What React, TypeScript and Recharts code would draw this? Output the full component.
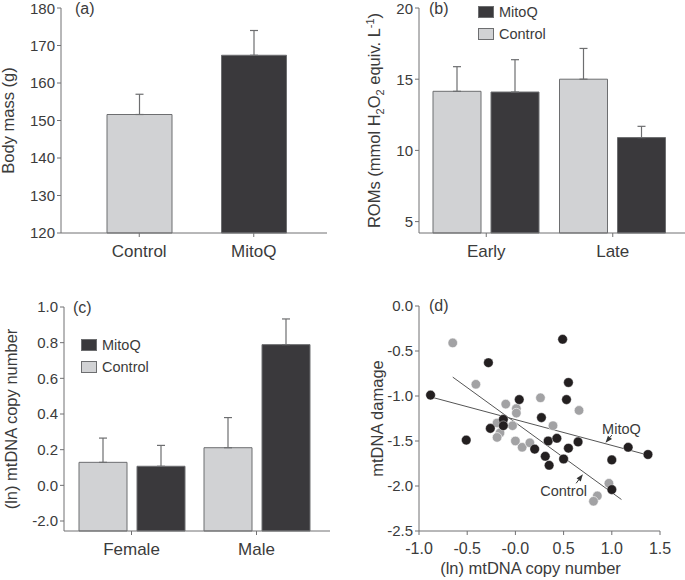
import React from "react";
import {
  BarChart,
  Bar,
  Cell,
  ErrorBar,
  XAxis,
  YAxis,
  Legend,
  ScatterChart,
  Scatter,
  ReferenceLine,
  ReferenceDot,
} from "recharts";

const FONT = '"Liberation Sans", Arial, Helvetica, sans-serif';
const INK = "#3b3b3b";
const AXIS = "#707072";
const LIGHT = "#d1d2d4";
const DARK = "#3a393c";
const EDGE = "#6d6e70";
const GREY_DOT = "#a2a2a4";
const BLACK_DOT = "#231f20";

// (a) body mass
const massGroups = ["Control", "MitoQ"];
const massMean = [151.6, 167.4];
const massSe = [5.4, 6.6];
const massTicks = [120, 130, 140, 150, 160, 170, 180];

// (b) ROMs
const romPeriods = ["Early", "Late"];
const romControl = [14.15, 15.0];
const romControlSe = [1.73, 2.16];
const romMitoQ = [14.1, 10.9];
const romMitoQSe = [2.27, 0.79];
const romTicks = [5, 10, 15, 20];
const ROM_FLOOR = 4.2;

// (c) copy number by sex
const sexes = ["Female", "Male"];
const copyControl = [0.129, 0.211];
const copyControlSe = [0.136, 0.169];
const copyMitoQ = [0.107, 0.789];
const copyMitoQSe = [0.117, 0.144];
const copyTicks = [-0.2, 0, 0.2, 0.4, 0.6, 0.8, 1.0];
const copyTickLabels = ["-2.0", "0.0", "0.2", "0.4", "0.6", "0.8", "1.0"]; // as printed
const COPY_FLOOR = -0.256;

// (d) damage vs copy number
const controlCopy = [-0.65, -0.41, -0.1, 0.01, 0.01, 0.26, -0.19, -0.03, -0.16, -0.19, 0.0, 0.07, 0.15, 0.39, 0.66, 0.97, 0.85, 0.81];
const controlDamage = [-0.41, -0.87, -1.09, -1.14, -1.19, -1.02, -1.3, -1.33, -1.41, -1.46, -1.5, -1.57, -1.52, -1.33, -1.16, -1.97, -2.11, -2.17];
const mitoCopy = [-0.88, -0.51, -0.28, -0.26, -0.125, -0.125, 0.04, 0.27, 0.2, 0.31, 0.35, 0.34, 0.43, 0.49, 0.55, 0.53, 0.5, 0.55, 0.65, 1.0, 1.0, 1.17, 1.375];
const mitoDamage = [-0.99, -1.49, -0.63, -1.36, -1.26, -1.33, -1.04, -1.24, -1.59, -1.67, -1.77, -1.5, -1.47, -0.37, -0.85, -1.04, -1.7, -1.58, -1.51, -1.71, -2.04, -1.57, -1.65];
const mitoFit = [{ x: -0.88, y: -1.01 }, { x: 1.37, y: -1.655 }];
const controlFit = [{ x: -0.65, y: -0.79 }, { x: 1.1, y: -2.15 }];
const xTicksD = [-1, -0.5, 0, 0.5, 1, 1.5];
const xTickLabelsD = ["-1.0", "-0.5", "-0.0", "0.5", "1.0", "1.5"];
const yTicksD = [0, -0.5, -1, -1.5, -2, -2.5];

const massRows = massGroups.map((g, i) => ({ group: g, mean: massMean[i], se: [0, massSe[i]] }));
const romRows = romPeriods.map((p, i) => ({
  period: p,
  control: romControl[i],
  controlSe: [0, romControlSe[i]],
  mitoq: romMitoQ[i],
  mitoqSe: [0, romMitoQSe[i]],
}));
const copyRows = sexes.map((s, i) => ({
  sex: s,
  control: [COPY_FLOOR, copyControl[i]],
  controlSe: [0, copyControlSe[i]],
  mitoq: [COPY_FLOOR, copyMitoQ[i]],
  mitoqSe: [0, copyMitoQSe[i]],
}));
const controlPts = controlCopy.map((x, i) => ({ x, y: controlDamage[i] }));
const mitoPts = mitoCopy.map((x, i) => ({ x, y: mitoDamage[i] }));

const numTick = { fill: INK, fontSize: 15, fontFamily: FONT };
const catTick = { fill: INK, fontSize: 17, fontFamily: FONT };

const YTitle = (props: any) => {
  const { viewBox, at, title, rich } = props;
  const cy = viewBox ? viewBox.y + viewBox.height / 2 : 120;
  return (
    <text
      x={at}
      y={cy}
      transform={`rotate(-90 ${at} ${cy})`}
      textAnchor="middle"
      dy="0.35em"
      fill={INK}
      fontSize={16.5}
      fontFamily={FONT}
    >
      {rich ? (
        <>
          ROMs (mmol H<tspan dy={4} fontSize={11}>2</tspan>
          <tspan dy={-4}>O</tspan>
          <tspan dy={4} fontSize={11}>2</tspan>
          <tspan dy={-4}> equiv. L</tspan>
          <tspan dy={-6} fontSize={11}>-1</tspan>
          <tspan dy={6}>)</tspan>
        </>
      ) : (
        title
      )}
    </text>
  );
};

const XTitle = (props: any) => {
  const { viewBox, title, dx = 0 } = props;
  const cx = viewBox ? viewBox.x + viewBox.width / 2 + dx : 170;
  const y = viewBox ? viewBox.y + 43 : 284;
  return (
    <text x={cx} y={y} textAnchor="middle" fill={INK} fontSize={16.5} fontFamily={FONT}>
      {title}
    </text>
  );
};

const KeyBox = () => (
  <div style={{ fontFamily: FONT, fontSize: 14.5, color: INK, lineHeight: "22px" }}>
    {[
      { name: "MitoQ", fill: DARK },
      { name: "Control", fill: LIGHT },
    ].map((it) => (
      <div key={it.name} style={{ display: "flex", alignItems: "center", height: 22 }}>
        <span
          style={{
            display: "inline-block",
            width: 16,
            height: 12,
            background: it.fill,
            border: `1px solid ${EDGE}`,
            boxSizing: "border-box",
            marginRight: 5,
          }}
        />
        {it.name}
      </div>
    ))}
  </div>
);

const Arrow = (props: any) => {
  const { x1, y1, x2, y2 } = props;
  const ang = Math.atan2(y2 - y1, x2 - x1);
  const len = 7;
  const half = 2.6;
  const bx = x2 - len * Math.cos(ang);
  const by = y2 - len * Math.sin(ang);
  const px = -Math.sin(ang) * half;
  const py = Math.cos(ang) * half;
  return (
    <g>
      <line x1={x1} y1={y1} x2={bx} y2={by} stroke="#333" strokeWidth={1} />
      <polygon points={`${x2},${y2} ${bx + px},${by + py} ${bx - px},${by - py}`} fill="#333" />
    </g>
  );
};

const panelLabel = (text: string, left: number, top: number) => (
  <div
    style={{
      position: "absolute",
      left,
      top,
      fontFamily: FONT,
      fontSize: 16,
      lineHeight: "18px",
      color: INK,
    }}
  >
    {text}
  </div>
);

export default function App() {
  return (
    <div style={{ position: "absolute", left: 0, top: 0, width: 685, height: 580, background: "#fff" }}>
      {/* (a) */}
      <div style={{ position: "absolute", left: 0, top: 0 }}>
        <BarChart width={340} height={290} data={massRows} margin={{ top: 8, right: 13, bottom: 0, left: 0 }}>
          <XAxis
            dataKey="group"
            padding={{ left: 21, right: 16 }}
            height={57}
            stroke={AXIS}
            tickSize={4}
            tickMargin={8}
            tick={catTick}
          />
          <YAxis
            width={61}
            domain={[120, 180]}
            ticks={massTicks}
            stroke={AXIS}
            tickSize={4}
            tickMargin={2}
            tick={numTick}
            label={<YTitle at={8} title="Body mass (g)" />}
          />
          <Bar dataKey="mean" barSize={65} stroke={EDGE} strokeWidth={1} isAnimationActive={false}>
            {massRows.map((r, i) => (
              <Cell key={r.group} fill={i === 0 ? LIGHT : DARK} />
            ))}
            <ErrorBar dataKey="se" width={4} stroke={EDGE} strokeWidth={1.2} />
          </Bar>
        </BarChart>
      </div>

      {/* (b) */}
      <div style={{ position: "absolute", left: 340, top: 0 }}>
        <BarChart
          width={345}
          height={290}
          data={romRows}
          barGap={10}
          margin={{ top: 8, right: 0, bottom: 0, left: 0 }}
        >
          <XAxis
            dataKey="period"
            padding={{ left: 4, right: 9 }}
            height={57}
            stroke={AXIS}
            tickSize={4}
            tickMargin={8}
            tick={catTick}
          />
          <YAxis
            width={79}
            domain={[ROM_FLOOR, 20]}
            ticks={romTicks}
            stroke={AXIS}
            tickSize={4}
            tickMargin={2}
            tick={numTick}
            label={<YTitle at={34} rich />}
          />
          <Legend
            layout="vertical"
            align="center"
            verticalAlign="middle"
            wrapperStyle={{ left: 138, top: 1, width: "auto", height: "auto" }}
            content={() => <KeyBox />}
          />
          <Bar dataKey="control" name="Control" fill={LIGHT} stroke={EDGE} barSize={48} isAnimationActive={false}>
            <ErrorBar dataKey="controlSe" width={4} stroke={EDGE} strokeWidth={1.2} />
          </Bar>
          <Bar dataKey="mitoq" name="MitoQ" fill={DARK} stroke={EDGE} barSize={48} isAnimationActive={false}>
            <ErrorBar dataKey="mitoqSe" width={4} stroke={EDGE} strokeWidth={1.2} />
          </Bar>
        </BarChart>
      </div>

      {/* (c) */}
      <div style={{ position: "absolute", left: 0, top: 290 }}>
        <BarChart
          width={340}
          height={290}
          data={copyRows}
          barGap={10}
          margin={{ top: 17, right: 10, bottom: 0, left: 0 }}
        >
          <XAxis
            dataKey="sex"
            padding={{ left: 5, right: 11 }}
            height={49}
            stroke={AXIS}
            tickSize={4}
            tickMargin={8}
            tick={catTick}
          />
          <YAxis
            width={64}
            domain={[COPY_FLOOR, 1]}
            ticks={copyTicks}
            tickFormatter={(v: number) => copyTickLabels[copyTicks.indexOf(v)] ?? String(v)}
            stroke={AXIS}
            tickSize={4}
            tickMargin={2}
            tick={numTick}
            label={<YTitle at={11} title="(ln) mtDNA copy number" />}
          />
          <Legend
            layout="vertical"
            align="center"
            verticalAlign="middle"
            wrapperStyle={{ left: 81, top: 43.5, width: "auto", height: "auto" }}
            content={() => <KeyBox />}
          />
          <Bar dataKey="control" name="Control" fill={LIGHT} stroke={EDGE} barSize={48} isAnimationActive={false}>
            <ErrorBar dataKey="controlSe" width={4} stroke={EDGE} strokeWidth={1.2} />
          </Bar>
          <Bar dataKey="mitoq" name="MitoQ" fill={DARK} stroke={EDGE} barSize={48} isAnimationActive={false}>
            <ErrorBar dataKey="mitoqSe" width={4} stroke={EDGE} strokeWidth={1.2} />
          </Bar>
        </BarChart>
      </div>

      {/* (d) */}
      <div style={{ position: "absolute", left: 340, top: 290 }}>
        <ScatterChart width={345} height={290} margin={{ top: 16, right: 25, bottom: 0, left: 0 }}>
          <XAxis
            type="number"
            dataKey="x"
            domain={[-1, 1.5]}
            ticks={xTicksD}
            tickFormatter={(v: number) => xTickLabelsD[xTicksD.indexOf(v)] ?? String(v)}
            height={49}
            stroke={AXIS}
            tickSize={4}
            tickMargin={8}
            tick={{ ...numTick, fontSize: 16 }}
            label={<XTitle title="(ln) mtDNA copy number" dx={-9} />}
          />
          <YAxis
            type="number"
            dataKey="y"
            domain={[-2.5, 0]}
            ticks={yTicksD}
            tickFormatter={(v: number) => v.toFixed(1)}
            width={79}
            stroke={AXIS}
            tickSize={4}
            tickMargin={2}
            tick={numTick}
            label={<YTitle at={37} title="mtDNA damage" />}
          />
          <Scatter
            data={controlPts}
            isAnimationActive={false}
            shape={(p: any) => <circle cx={p.cx} cy={p.cy} r={4.8} fill={GREY_DOT} stroke="#fff" strokeWidth={0.6} />}
          />
          <Scatter
            data={mitoPts}
            isAnimationActive={false}
            shape={(p: any) => <circle cx={p.cx} cy={p.cy} r={4.8} fill={BLACK_DOT} stroke="#fff" strokeWidth={0.4} />}
          />
          <ReferenceLine segment={mitoFit} stroke="#555" strokeWidth={1} />
          <ReferenceLine segment={controlFit} stroke="#555" strokeWidth={1} />
          <ReferenceLine
            segment={[{ x: 1.0, y: -1.435 }, { x: 0.935, y: -1.52 }]}
            shape={(p: any) => <Arrow {...p} />}
          />
          <ReferenceLine
            segment={[{ x: 0.63, y: -1.97 }, { x: 0.7, y: -1.87 }]}
            shape={(p: any) => <Arrow {...p} />}
          />
          <ReferenceDot
            x={1.1}
            y={-1.36}
            r={0}
            fill="none"
            stroke="none"
            label={{ value: "MitoQ", position: "center", fill: INK, fontSize: 14.5, fontFamily: FONT }}
          />
          <ReferenceDot
            x={0.5}
            y={-2.05}
            r={0}
            fill="none"
            stroke="none"
            label={{ value: "Control", position: "center", fill: INK, fontSize: 14.5, fontFamily: FONT }}
          />
        </ScatterChart>
      </div>

      {panelLabel("(a)", 75, 0)}
      {panelLabel("(b)", 429, 0)}
      {panelLabel("(c)", 73, 299)}
      {panelLabel("(d)", 429, 297)}
    </div>
  );
}
